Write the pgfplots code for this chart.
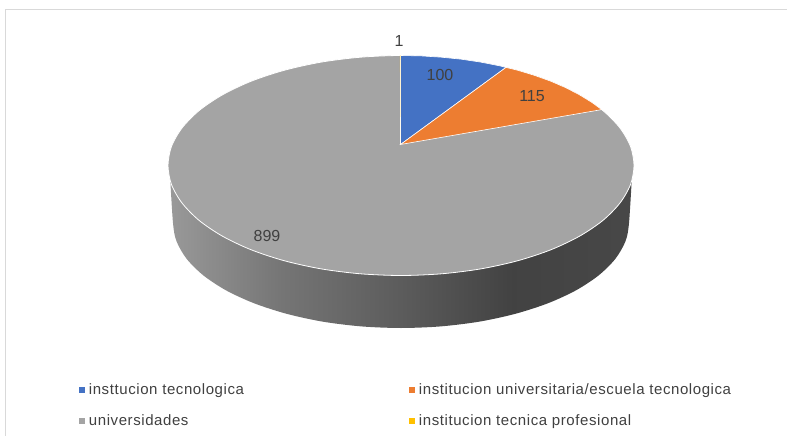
\documentclass[border=0pt]{standalone}
\usepackage{pgfplots}
\pgfplotsset{compat=1.18}
\usepackage{fontspec}
\setmainfont{Liberation Sans}
\newfontfamily\legfont[LetterSpace=3.9]{Liberation Sans}
\definecolor{cblue}{HTML}{4472C4}
\definecolor{corange}{HTML}{ED7D31}
\definecolor{cgray}{HTML}{A4A4A4}
\definecolor{cyellow}{HTML}{FFC000}
\definecolor{ctext}{HTML}{404040}
\definecolor{cframe}{HTML}{D9D9D9}
\pgfdeclarehorizontalshading{sideshade}{100bp}{
  color(0bp)=(black!40!white);
  color(25bp)=(black!40!white);
  color(37bp)=(black!54!white);
  color(50bp)=(black!64!white);
  color(62bp)=(black!74!white);
  color(75bp)=(black!72!white);
  color(100bp)=(black!72!white)}
\begin{document}
\begin{tikzpicture}
\useasboundingbox (0pt,0pt) rectangle (787pt,436pt);
\begin{axis}[
  at={(0pt,0pt)}, anchor=south west,
  scale only axis, width=787pt, height=436pt,
  xmin=0, xmax=787, ymin=0, ymax=436, y dir=reverse,
  axis lines=none, clip=false,
  legend style={draw=none, fill=none, at={(axis cs:78.5,382)}, anchor=north west,
    legend columns=2, font=\legfont\fontsize{15}{16}\selectfont, text=ctext,
    /tikz/every odd column/.style={column sep=3pt},
    /tikz/every even column/.style={column sep=162.5pt},
    row sep=14pt, inner sep=0pt, outer sep=0pt},
  legend cell align=left,
  legend image code/.code={\fill[#1] (0pt,-2.5pt) rectangle (5pt,2.5pt);},
]
% frame
\addplot[forget plot, cframe, line width=1pt] coordinates {(5,436) (5,9.5) (787,9.5)};
% side of the pie
\addplot[forget plot, smooth, draw=none, shading=sideshade] coordinates {
 (170,175) (173,223) (176.5,241.2) (186.7,258.9) (203.5,275.5) (226.3,290.5) (254.4,303.4)
 (287,313.9) (323,321.7) (361.4,326.4) (401,328) (440.6,326.4) (479,321.7) (515,313.9)
 (547.6,303.4) (575.7,290.5) (598.5,275.5) (615.3,258.9) (625.5,241.2) (629,223) (632,175)};
% universidades: 899 (top face)
\addplot[forget plot, smooth cycle, fill=cgray, draw=white, line width=0.8pt] coordinates {
 (634,165.5) (630.5,184.6) (619.9,203.1) (602.8,220.5) (579.5,236.2) (550.8,249.8) (517.5,260.8)
 (480.7,268.9) (441.5,273.8) (401,275.5) (360.5,273.8) (321.3,268.9) (284.5,260.8) (251.2,249.8)
 (222.5,236.2) (199.2,220.5) (182.1,203.1) (171.5,184.6) (168,165.5) (171.5,146.4) (182.1,127.9)
 (199.2,110.5) (222.5,94.8) (251.2,81.2) (284.5,70.2) (321.3,62.1) (360.5,57.2) (401,55.5)
 (441.5,57.2) (480.7,62.1) (517.5,70.2) (550.8,81.2) (579.5,94.8) (602.8,110.5) (619.9,127.9) (630.5,146.4)};
% institucion tecnologica: 100
\addplot[forget plot, fill=cblue, draw=white, line width=0.6pt] coordinates {
 (400.5,144.5) (400.5,55.5) (421.3,55.9) (441.5,57.2) (461.3,59.2) (480.7,62.1) (499.5,65.8) (506,67.4)} -- cycle;
% institucion universitaria: 115
\addplot[forget plot, fill=corange, draw=white, line width=0.6pt] coordinates {
 (400.5,144.5) (506,67.4) (517.5,70.2) (534.6,75.4) (550.8,81.2) (565.8,87.7) (579.5,94.8) (591.9,102.4) (601.7,109.6)} -- cycle;
% institucion tecnica profesional: 1
\addplot[forget plot, fill=cyellow, fill opacity=0.5, draw=none] coordinates {(400.4,144.5) (399.9,55.5) (400.5,55.5)} -- cycle;
\addlegendimage{cblue}\addlegendentry{insttucion tecnologica}
\addlegendimage{corange}\addlegendentry{institucion universitaria/escuela tecnologica}
\addlegendimage{cgray}\addlegendentry{universidades}
\addlegendimage{cyellow}\addlegendentry{institucion tecnica profesional}
\node[text=ctext, font=\fontsize{16}{16}\selectfont] at (axis cs:399,41) {1};
\node[text=ctext, font=\fontsize{16}{16}\selectfont] at (axis cs:440,75) {100};
\node[text=ctext, font=\fontsize{16}{16}\selectfont] at (axis cs:532,96) {115};
\node[text=ctext, font=\fontsize{16}{16}\selectfont] at (axis cs:267,236) {899};
\end{axis}
\end{tikzpicture}
\end{document}
